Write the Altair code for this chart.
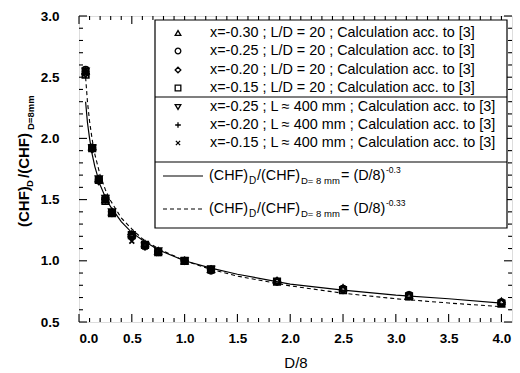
import altair as alt
import pandas as pd

# ---------------- data ----------------
X_PTS = [0.0625, 0.125, 0.1875, 0.25, 0.3125, 0.5, 0.625, 0.75, 1.0, 1.25, 1.875, 2.5, 3.125, 4.0]

SERIES = [
    "x=-0.30 ; L/D = 20 ; Calculation acc. to [3]",
    "x=-0.25 ; L/D = 20 ; Calculation acc. to [3]",
    "x=-0.20 ; L/D = 20 ; Calculation acc. to [3]",
    "x=-0.15 ; L/D = 20 ; Calculation acc. to [3]",
    "x=-0.25 ; L \u2248 400 mm ; Calculation acc. to [3]",
    "x=-0.20 ; L \u2248 400 mm ; Calculation acc. to [3]",
    "x=-0.15 ; L \u2248 400 mm ; Calculation acc. to [3]",
]
S1 = [2.55, 1.93, 1.67, 1.50, 1.40, 1.22, 1.14, 1.08, 1.00, 0.93, 0.84, 0.78, 0.72, 0.67]
S2 = [2.56, 1.92, 1.66, 1.51, 1.39, 1.21, 1.13, 1.07, 1.00, 0.92, 0.83, 0.77, 0.72, 0.66]
S3 = [2.53, 1.91, 1.65, 1.50, 1.40, 1.20, 1.12, 1.08, 1.00, 0.93, 0.83, 0.76, 0.71, 0.66]
S4 = [2.52, 1.92, 1.66, 1.49, 1.39, 1.21, 1.13, 1.07, 1.00, 0.93, 0.83, 0.76, 0.71, 0.65]
S5 = [2.55, 1.92, 1.67, 1.51, 1.40, 1.19, 1.12, 1.08, 1.00, 0.93]
S6 = [2.54, 1.91, 1.66, 1.50, 1.39, 1.18, 1.11, 1.07, 1.00, 0.92]
S7 = [2.53, 1.92, 1.65, 1.50, 1.40, 1.16, 1.11, 1.06, 1.00, 0.92]
SERIES_VALUES = [S1, S2, S3, S4, S5, S6, S7]

SHAPES = [
    "triangle-up", "circle", "diamond", "square", "triangle-down",
    "M-1,0L1,0M0,-1L0,1",
    "M-0.75,-0.75L0.75,0.75M0.75,-0.75L-0.75,0.75",
]

# curves
X_CURVE = [0.0625, 0.08, 0.1, 0.125, 0.15, 0.2, 0.25, 0.3, 0.4, 0.5, 0.6, 0.75,
           1.0, 1.25, 1.5, 2.0, 2.5, 3.0, 3.5, 4.0]
Y_SOLID = [2.30, 2.13, 2.00, 1.87, 1.77, 1.62, 1.52, 1.44, 1.32, 1.23, 1.17, 1.09,
           1.00, 0.94, 0.89, 0.81, 0.76, 0.72, 0.69, 0.655]
Y_DASHED = [2.50, 2.30, 2.14, 1.99, 1.87, 1.70, 1.58, 1.49, 1.35, 1.26, 1.18, 1.10,
            1.00, 0.93, 0.875, 0.795, 0.735, 0.69, 0.655, 0.625]

X_MAJOR = [0.0, 0.5, 1.0, 1.5, 2.0, 2.5, 3.0, 3.5, 4.0]
X_MINOR = [round(i * 0.1, 1) for i in range(1, 41) if (i % 5) != 0]
Y_MAJOR = [0.5, 1.0, 1.5, 2.0, 2.5, 3.0]
Y_MINOR = [round(0.5 + i * 0.1, 1) for i in range(1, 25) if (i % 5) != 0]

# ---------------- layout ----------------
W, H = 433, 306
FONT = "Liberation Sans"
xs = alt.Scale(domain=[0, 4.1], nice=False, zero=False)
ys = alt.Scale(domain=[0.5, 3.0], nice=False, zero=False)

rows = []
for name, vals in zip(SERIES, SERIES_VALUES):
    for xv, yv in zip(X_PTS, vals):
        rows.append({"series": name, "x": xv, "y": yv})
pts_df = pd.DataFrame(rows)

curve_df = pd.DataFrame({"x": X_CURVE * 2, "y": Y_SOLID + Y_DASHED,
                         "kind": ["solid"] * len(X_CURVE) + ["dashed"] * len(X_CURVE)})

x_axis = alt.Axis(values=X_MAJOR, format=".1f", ticks=False, tickSize=0, domain=False, grid=False,
                  labelFont=FONT, labelFontSize=13.5, labelFontWeight="bold", labelColor="black",
                  labelPadding=9, title="D/8", titleFont=FONT, titleFontSize=15,
                  titleFontWeight="normal", titleColor="black", titlePadding=11)
y_axis = alt.Axis(values=Y_MAJOR, format=".1f", ticks=False, tickSize=0, domain=False, grid=False,
                  labelFont=FONT, labelFontSize=13.5, labelFontWeight="bold", labelColor="black",
                  labelPadding=20, title=None)

solid = alt.Chart(curve_df).transform_filter(alt.datum.kind == "solid").mark_line(
    color="black", strokeWidth=1.2).encode(
    x=alt.X("x:Q", scale=xs, axis=x_axis), y=alt.Y("y:Q", scale=ys, axis=y_axis))
dashed = alt.Chart(curve_df).transform_filter(alt.datum.kind == "dashed").mark_line(
    color="black", strokeWidth=1.1, strokeDash=[4, 3]).encode(
    x=alt.X("x:Q", scale=xs), y=alt.Y("y:Q", scale=ys))

points = alt.Chart(pts_df).mark_point(filled=False, color="black", strokeWidth=1.7, size=42,
                                      opacity=1).encode(
    x=alt.X("x:Q", scale=xs), y=alt.Y("y:Q", scale=ys),
    shape=alt.Shape("series:N", scale=alt.Scale(domain=SERIES, range=SHAPES), legend=None))

def tick_layers():
    out = []
    # inward ticks on all four sides
    for vals, ln, nm in ((X_MAJOR, 8, "xa"), (X_MINOR, 4, "xb")):
        d = pd.DataFrame({nm: vals})
        out.append(alt.Chart(d).mark_tick(color="black", thickness=1.1, size=ln, orient="vertical",
                                          opacity=1).encode(
            x=alt.X(f"{nm}:Q", scale=xs), y=alt.value(H - ln / 2)))
        out.append(alt.Chart(d).mark_tick(color="black", thickness=1.1, size=ln, orient="vertical",
                                          opacity=1).encode(
            x=alt.X(f"{nm}:Q", scale=xs), y=alt.value(ln / 2)))
    for vals, ln, nm in ((Y_MAJOR, 8, "ya"), (Y_MINOR, 4, "yb")):
        d = pd.DataFrame({nm: vals})
        out.append(alt.Chart(d).mark_tick(color="black", thickness=1.1, size=ln, orient="horizontal",
                                          opacity=1).encode(
            y=alt.Y(f"{nm}:Q", scale=ys), x=alt.value(ln / 2)))
        out.append(alt.Chart(d).mark_tick(color="black", thickness=1.1, size=ln, orient="horizontal",
                                          opacity=1).encode(
            y=alt.Y(f"{nm}:Q", scale=ys), x=alt.value(W - ln / 2)))
    return out

one = pd.DataFrame({"a": [0]})

def txt(s, x, y, size, weight="normal", angle=0, baseline="middle"):
    return alt.Chart(one).mark_text(text=s, font=FONT, fontSize=size, fontWeight=weight,
                                    align="left", baseline=baseline, angle=angle,
                                    color="black").encode(x=alt.value(x), y=alt.value(y))

# legend
LX0, LX1, LY0, LY1 = 76, 428, 4, 212
legend = [
    alt.Chart(one).mark_rect(fill="white", stroke="black", strokeWidth=1.2).encode(
        x=alt.value(LX0), x2=alt.value(LX1), y=alt.value(LY0), y2=alt.value(LY1)),
    alt.Chart(one).mark_rule(color="black", strokeWidth=1.2).encode(
        x=alt.value(LX0), x2=alt.value(LX1), y=alt.value(81)),
    alt.Chart(one).mark_rule(color="black", strokeWidth=1.2).encode(
        x=alt.value(LX0), x2=alt.value(LX1), y=alt.value(146)),
]
ROW_Y = [17, 35, 54, 72, 91, 109, 127]
for name, shp, ry in zip(SERIES, SHAPES, ROW_Y):
    legend.append(alt.Chart(one).mark_point(shape=shp, filled=False, color="black",
                                            strokeWidth=1.3, size=32, opacity=1).encode(
        x=alt.value(99), y=alt.value(ry)))
    legend.append(txt(name, 131, ry, 14.4))

for ry, dash in ((160, None), (193, [4, 3])):
    kw = {"strokeDash": dash} if dash else {}
    legend.append(alt.Chart(one).mark_rule(color="black", strokeWidth=1.2, **kw).encode(
        x=alt.value(84), x2=alt.value(124), y=alt.value(ry)))
    sup = "-0.3" if dash is None else "-0.33"
    legend += [
        txt("(CHF)", 130, ry, 14.4),
        txt("D", 170, ry + 5, 10),
        txt("/(CHF)", 178, ry, 14.4),
        txt("D= 8 mm", 222, ry + 5, 9.5),
        txt("= (D/8)", 262, ry, 14.4),
        txt(sup, 307, ry - 6, 8.5),
    ]

# y title with subscripts (rotated)
ytitle = [
    txt("(CHF)", -55, 211, 15, "bold", 270),
    txt("D", -49, 171, 9.5, "bold", 270),
    txt("/(CHF)", -55, 162, 15, "bold", 270),
    txt("D=8mm", -48, 114, 9.5, "bold", 270),
]

chart = alt.layer(solid, dashed, points, *tick_layers(), *legend, *ytitle).properties(
    width=W, height=H,
    autosize=alt.AutoSizeParams(type="none"),
    padding={"left": 79, "top": 16, "right": 8, "bottom": 51},
).configure_view(stroke="black", strokeWidth=1.5).configure(background="white")

chart.save("out.html", embed_options={"renderer": "svg", "actions": False})
